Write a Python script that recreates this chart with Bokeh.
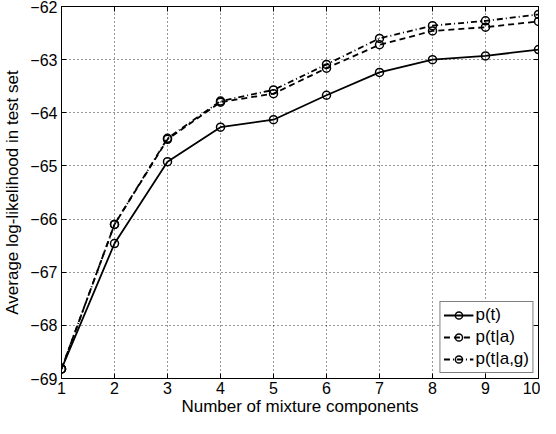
from bokeh.plotting import figure
from bokeh.models import Range1d, LinearAxis, FixedTicker, Legend, LegendItem, CustomJSTickFormatter
from bokeh.embed import file_html
from bokeh.resources import INLINE

# Data
components = [1, 2, 3, 4, 5, 6, 7, 8, 9, 10]
p_t = [-68.82, -66.46, -64.92, -64.27, -64.13, -63.67, -63.24, -63.00, -62.93, -62.81]
p_t_a = [-68.82, -66.10, -64.50, -63.80, -63.64, -63.16, -62.72, -62.46, -62.39, -62.28]
p_t_ag = [-68.82, -66.10, -64.48, -63.78, -63.57, -63.09, -62.60, -62.36, -62.27, -62.15]
x_ticks = [1, 2, 3, 4, 5, 6, 7, 8, 9, 10]
y_ticks = [-69, -68, -67, -66, -65, -64, -63, -62]

FONT = "Liberation Sans"

p = figure(width=540, height=418, x_range=Range1d(1, 10), y_range=Range1d(-69, -62),
           output_backend="svg", toolbar_location=None,
           min_border_left=55, min_border_right=2, min_border_top=6, min_border_bottom=0)
p.background_fill_color = "white"
p.border_fill_color = "white"
p.outline_line_color = "black"
p.outline_line_width = 1

for ax in (p.xaxis[0], p.yaxis[0]):
    ax.major_tick_in = 5
    ax.major_tick_out = 0
    ax.minor_tick_line_color = None
    ax.axis_line_color = "black"
    ax.major_tick_line_color = "black"
    ax.major_label_text_font = FONT
    ax.major_label_text_font_size = "16px"
    ax.major_label_text_color = "black"
    ax.axis_label_text_font = FONT
    ax.axis_label_text_font_size = "17px"
    ax.axis_label_text_font_style = "normal"
    ax.axis_label_text_color = "black"

p.xaxis[0].ticker = FixedTicker(ticks=x_ticks)
p.yaxis[0].ticker = FixedTicker(ticks=y_ticks)
p.xaxis[0].axis_label = "Number of mixture components"
p.yaxis[0].axis_label = "Average log-likelihood in test set"
p.xaxis[0].major_label_standoff = 3
p.xaxis[0].axis_label_standoff = 0
p.yaxis[0].major_label_standoff = 4
p.yaxis[0].axis_label_standoff = 5

# tick marks on the top and right edges, with empty labels
blank = CustomJSTickFormatter(code="return '';")
top = LinearAxis(ticker=FixedTicker(ticks=x_ticks), formatter=blank,
                 major_tick_in=5, major_tick_out=0, minor_tick_line_color=None,
                 major_label_text_font_size="8px", major_label_standoff=0,
                 axis_line_color="black")
right = LinearAxis(ticker=FixedTicker(ticks=y_ticks), formatter=blank,
                   major_tick_in=5, major_tick_out=0, minor_tick_line_color=None,
                   major_label_text_font_size="8px", major_label_standoff=0,
                   axis_line_color="black")
p.add_layout(top, "above")
p.add_layout(right, "right")

p.xgrid.ticker = FixedTicker(ticks=x_ticks)
p.ygrid.ticker = FixedTicker(ticks=y_ticks)
p.grid.grid_line_color = "#333333"
p.grid.grid_line_dash = "1 3"
p.grid.grid_line_width = 1

LW = 1.8
l1 = p.line(components, p_t, line_color="black", line_width=LW)
s1 = p.scatter(components, p_t, marker="circle", size=8, fill_color=None,
               line_color="black", line_width=1.5)
l2 = p.line(components, p_t_a, line_color="black", line_width=LW, line_dash="6 4")
s2 = p.scatter(components, p_t_a, marker="circle", size=8, fill_color=None,
               line_color="black", line_width=1.5)
l3 = p.line(components, p_t_ag, line_color="black", line_width=LW, line_dash="6 3 1 3")
s3 = p.scatter(components, p_t_ag, marker="circle", size=8, fill_color=None,
               line_color="black", line_width=1.5)

legend = Legend(items=[
    LegendItem(label="p(t)", renderers=[l1, s1]),
    LegendItem(label="p(t|a)", renderers=[l2, s2]),
    LegendItem(label="p(t|a,g)", renderers=[l3, s3]),
], location="bottom_right")
legend.label_text_font = FONT
legend.label_text_font_size = "17px"
legend.label_text_color = "black"
legend.border_line_color = "black"
legend.border_line_width = 1
legend.background_fill_alpha = 1
legend.glyph_width = 30
legend.glyph_height = 18
legend.label_height = 18
legend.label_standoff = 2
legend.spacing = 2
legend.padding = 3
legend.margin = 5
p.add_layout(legend)

open("out.html", "w").write(file_html(p, INLINE))
